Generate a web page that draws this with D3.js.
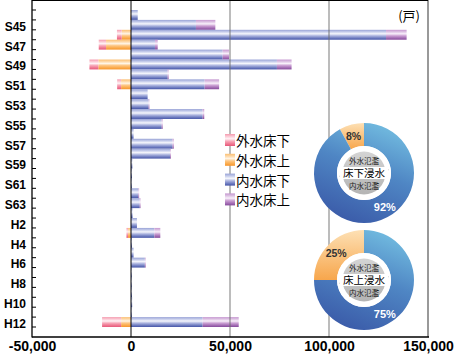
<!DOCTYPE html>
<html>
<head>
<meta charset="utf-8">
<script src="https://cdn.jsdelivr.net/npm/d3@7"></script>
<style>
  html, body { margin: 0; padding: 0; background: #fff; }
  svg { display: block; }
  text { font-family: "Liberation Sans", Arial, sans-serif; }
  .jp { font-family: "Noto Sans CJK JP", sans-serif; }
</style>
</head>
<body>
<svg id="chart" width="455" height="354"></svg>
<script>
// years S44 .. H12
const years = ["S44","S45","S46","S47","S48","S49","S50","S51","S52","S53","S54","S55","S56","S57","S58","S59","S60","S61","S62","S63",
               "H1","H2","H3","H4","H5","H6","H7","H8","H9","H10","H11","H12"]
const yearLabels = ["S45","S47","S49","S51","S53","S55","S57","S59","S61","S63","H2","H4","H6","H8","H10","H12"]

// 外水 (drawn to the left of zero)
const outerAbove = [300,0,4700,12600,0,16500,0,5000,300,0,0,0,0,0,0,0,0,0,0,0, 0,0,1500,0,0,0,0,0,0,0,0,5000]   // 外水床上
const outerBelow = [0,0,2400,3700,0,4500,0,2000,0,0,0,0,0,0,0,0,0,0,0,0, 0,0,800,0,0,0,0,0,0,0,0,9600]        // 外水床下
// 内水 (right of zero)
const innerBelow = [3400,32800,128800,12100,46300,73700,18500,37200,8400,8900,36200,15500,1300,21000,19800,700,500,100,3700,4400,
                    800,3000,11800,500,1300,7000,100,100,500,600,300,36200]                                          // 内水床下
const innerAbove = [0,9800,10400,1400,3200,7400,500,7300,0,300,800,500,0,600,400,0,0,0,200,100,
                    0,0,3000,0,0,200,0,0,0,0,0,18200]                                                               // 内水床上

const xTicks = [-50000, 0, 50000, 100000, 150000]

const legendNames = ["外水床下", "外水床上", "内水床下", "内水床上"]

const donuts = [
  {title: "床下浸水", outer: 8, inner: 92},
  {title: "床上浸水", outer: 25, inner: 75}
]

const svg = d3.select("#chart")
const defs = svg.append("defs")

// bar gradients
const grads = {
  pink:   ["#f49aae","#fbc9d4","#fff3f6","#f7a9ba","#f07d96","#e6587a"],
  orange: ["#fbbf72","#fdd8a8","#fff5e6","#fdc684","#fbae52","#f6952c"],
  blue:   ["#98a2d6","#c4cbea","#f5f6fc","#aeb6e0","#7683c4","#4655a8"],
  purple: ["#c597d0","#ddc2e3","#f8f0fa","#cca2d4","#a873b8","#854a9b"]
}
Object.entries(grads).forEach(([k, stops]) => {
  const g = defs.append("linearGradient").attr("id", "g-" + k)
    .attr("x1", 0).attr("y1", 0).attr("x2", 0).attr("y2", 1)
  stops.forEach((c, i) => g.append("stop").attr("offset", i / (stops.length - 1)).attr("stop-color", c))
})

const dBlue = defs.append("linearGradient").attr("id", "d-blue")
  .attr("x1", 0.7).attr("y1", 0).attr("x2", 0.3).attr("y2", 1)
dBlue.append("stop").attr("offset", 0).attr("stop-color", "#72bce0")
dBlue.append("stop").attr("offset", 0.45).attr("stop-color", "#4f86c4")
dBlue.append("stop").attr("offset", 1).attr("stop-color", "#3a5aa8")
const dOr = defs.append("linearGradient").attr("id", "d-orange")
  .attr("x1", 0).attr("y1", 0).attr("x2", 0).attr("y2", 1)
dOr.append("stop").attr("offset", 0).attr("stop-color", "#fde0b4")
dOr.append("stop").attr("offset", 1).attr("stop-color", "#f7a64c")
const dGray = defs.append("linearGradient").attr("id", "d-gray")
  .attr("x1", 0).attr("y1", 0).attr("x2", 0).attr("y2", 1)
dGray.append("stop").attr("offset", 0).attr("stop-color", "#d4d4d4")
dGray.append("stop").attr("offset", 1).attr("stop-color", "#b4b4b4")

const x = d3.scaleLinear().domain([-50000, 150000]).range([32, 428])
const y = d3.scaleBand().domain(years).range([10, 327]).padding(0)

// bars
const rows = years.map((yr, i) => ({
  yr,
  segs: [
    {k: "orange", x0: -outerAbove[i], x1: 0},
    {k: "pink", x0: -outerAbove[i] - outerBelow[i], x1: -outerAbove[i]},
    {k: "blue", x0: 0, x1: innerBelow[i]},
    {k: "purple", x0: innerBelow[i], x1: innerBelow[i] + innerAbove[i]}
  ].filter(s => s.x1 - s.x0 > 0)
}))

const barG = svg.append("g")
barG.selectAll("g").data(rows).join("g")
  .selectAll("rect").data(d => d.segs.map(s => ({...s, yr: d.yr}))).join("rect")
  .attr("x", d => x(d.x0))
  .attr("width", d => Math.max(0.8, x(d.x1) - x(d.x0)))
  .attr("y", d => y(d.yr))
  .attr("height", y.bandwidth())
  .attr("fill", d => `url(#g-${d.k})`)

// grid lines
svg.append("g").selectAll("line").data([50000, 100000]).join("line")
  .attr("x1", d => x(d)).attr("x2", d => x(d))
  .attr("y1", 0).attr("y2", 337)
  .attr("stroke", "#6a6a6a").attr("stroke-width", 1).attr("stroke-opacity", 0.9)

// zero line
svg.append("line").attr("x1", x(0)).attr("x2", x(0)).attr("y1", 0).attr("y2", 337)
  .attr("stroke", "#000").attr("stroke-width", 1)

// frame
svg.append("line").attr("x1", x(150000)).attr("x2", x(150000)).attr("y1", 0).attr("y2", 337)
  .attr("stroke", "#555").attr("stroke-width", 1.2)
svg.append("line").attr("x1", 32).attr("x2", 428).attr("y1", 0.5).attr("y2", 0.5)
  .attr("stroke", "#000").attr("stroke-width", 1)
svg.append("line").attr("x1", 32).attr("x2", 32).attr("y1", 0).attr("y2", 337.5)
  .attr("stroke", "#000").attr("stroke-width", 1.3)
svg.append("line").attr("x1", 32).attr("x2", 429).attr("y1", 337).attr("y2", 337)
  .attr("stroke", "#000").attr("stroke-width", 1.5)

// y ticks at row boundaries
const bounds = years.map(d => y(d)).concat([y.range()[1]])
svg.append("g").selectAll("line").data(bounds).join("line")
  .attr("x1", 32).attr("x2", 36)
  .attr("y1", d => d).attr("y2", d => d)
  .attr("stroke", "#000").attr("stroke-width", 1)

// y labels
const yAxis = svg.append("g").attr("transform", "translate(32,2)")
  .call(d3.axisLeft(y).tickValues(yearLabels).tickSize(0).tickPadding(6))
yAxis.select(".domain").remove()
yAxis.selectAll("text").attr("font-size", 12).attr("font-weight", "bold")
  .attr("font-family", "'Liberation Sans', Arial, sans-serif").attr("fill", "#000")

// x labels (plain hyphen for the minus, as in the original)
const fmt = d3.format(",")
const xAxis = svg.append("g").attr("transform", "translate(0,337)")
  .call(d3.axisBottom(x).tickValues(xTicks).tickSize(0).tickPadding(4)
    .tickFormat(d => fmt(d).replace("\u2212", "-")))
xAxis.select(".domain").remove()
xAxis.selectAll("text").attr("font-size", 14).attr("font-weight", "bold")
  .attr("font-family", "'Liberation Sans', Arial, sans-serif").attr("fill", "#000")

// unit
svg.append("text").attr("class", "jp").attr("x", 420).attr("y", 21)
  .attr("text-anchor", "end").attr("font-size", 13).attr("fill", "#000").text("(戸)")

// legend
const legendKeys = ["pink", "orange", "blue", "purple"]
const lg = svg.append("g").attr("transform", "translate(225,140)")
const li = lg.selectAll("g").data(legendNames).join("g")
  .attr("transform", (d, i) => `translate(0,${i * 19.8})`)
li.append("rect").attr("x", 0).attr("y", -6).attr("width", 10).attr("height", 12)
  .attr("fill", (d, i) => `url(#g-${legendKeys[i]})`)
li.append("text").attr("class", "jp").attr("x", 11).attr("y", 0)
  .attr("dominant-baseline", "central").attr("font-size", 13.5).attr("fill", "#000")
  .text(d => d)

// donuts
const arc = d3.arc().innerRadius(27).outerRadius(50)
const centers = [[364, 173], [364, 280]]
donuts.forEach((dn, j) => {
  const frac = dn.outer / (dn.outer + dn.inner)
  const start = -2 * Math.PI * frac
  const pie = d3.pie().sort(null).startAngle(start).endAngle(start + 2 * Math.PI)
  const arcs = pie([dn.outer, dn.inner])
  const g = svg.append("g").attr("transform", `translate(${centers[j]})`)
  g.selectAll("path").data(arcs).join("path")
    .attr("d", arc)
    .attr("fill", (d, i) => i === 0 ? "url(#d-orange)" : "url(#d-blue)")
  // white centre with grey bubbles
  g.append("circle").attr("r", 27).attr("fill", "#fff")
  g.append("circle").attr("r", 21.5).attr("fill", "url(#d-gray)")
  g.append("path").attr("d", "M-21,-3 L-25,4 L-14,-1 Z").attr("fill", "#c4c4c4")
  g.append("path").attr("d", "M21,3 L25,-4 L14,1 Z").attr("fill", "#c4c4c4")
  g.append("rect").attr("x", -24).attr("y", -6).attr("width", 48).attr("height", 12).attr("fill", "#fff")
  g.append("text").attr("class", "jp").attr("y", -13).attr("text-anchor", "middle")
    .attr("dominant-baseline", "central").attr("font-size", 7.5).attr("fill", "#222").text("外水氾濫")
  g.append("text").attr("class", "jp").attr("y", -0.5).attr("text-anchor", "middle")
    .attr("dominant-baseline", "central").attr("font-size", 10.5).attr("fill", "#000").text(dn.title)
  g.append("text").attr("class", "jp").attr("y", 12.5).attr("text-anchor", "middle")
    .attr("dominant-baseline", "central").attr("font-size", 7.5).attr("fill", "#222").text("内水氾濫")
  // percent labels
  const c0 = d3.arc().innerRadius(38).outerRadius(38).centroid(arcs[0])
  g.append("text").attr("x", c0[0] - 1).attr("y", c0[1]).attr("text-anchor", "middle")
    .attr("dominant-baseline", "central").attr("font-size", 10.5).attr("font-weight", "bold")
    .attr("fill", "#333").text(dn.outer + "%")
  const a1 = Math.PI * 0.84
  g.append("text").attr("x", 39 * Math.sin(a1) + 2).attr("y", -39 * Math.cos(a1))
    .attr("text-anchor", "middle").attr("dominant-baseline", "central")
    .attr("font-size", 11).attr("font-weight", "bold").attr("fill", "#fff").text(dn.inner + "%")
})
</script>
</body>
</html>
